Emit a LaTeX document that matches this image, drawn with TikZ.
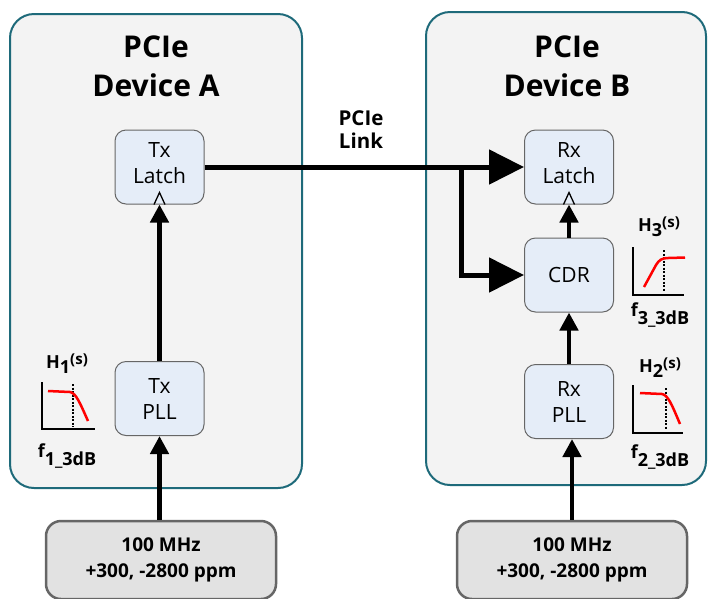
\documentclass[tikz,border=0pt]{standalone}
\usepackage{fontspec}
\setmainfont{Open Sans}
\usetikzlibrary{arrows.meta}
\definecolor{devfill}{HTML}{F3F3F3}
\definecolor{devline}{HTML}{1E6A7A}
\definecolor{blkfill}{HTML}{E5EDF8}
\definecolor{blkline}{HTML}{666666}
\definecolor{clkfill}{HTML}{E2E2E2}
\definecolor{curvered}{HTML}{FF0000}
\newcommand\Hlab[1]{H\raisebox{-5pt}{#1}\raisebox{4pt}{\fontsize{15}{15}\selectfont(s)}}
\newcommand\flab[1]{f\raisebox{-8pt}{#1\_3dB}}
\begin{document}
\begin{tikzpicture}[x=1pt,y=-1pt,
  devbox/.style={draw=devline, line width=2pt, fill=devfill, rounded corners=24pt, inner sep=0pt},
  blk/.style={draw=blkline, line width=1pt, fill=blkfill, rounded corners=11pt, minimum width=89pt, minimum height=74pt, inner sep=0pt},
  blktext/.style={align=center, font=\fontsize{21}{26}\selectfont, inner sep=0pt},
  clk/.style={draw=blkline, line width=2.5pt, fill=clkfill, rounded corners=15pt, minimum width=230pt, minimum height=78pt, inner sep=0pt, align=center, font=\bfseries\fontsize{19}{26}\selectfont},
  title/.style={font=\bfseries\fontsize{30}{39}\selectfont, align=center, inner sep=0pt},
  linklab/.style={font=\bfseries\fontsize{20.5}{23}\selectfont, align=center, inner sep=0pt},
  hlab/.style={font=\bfseries\fontsize{18}{18}\selectfont, inner sep=0pt},
  arr/.style={line width=4.5pt, -{Triangle[length=18pt,width=18pt]}},
  bigarr/.style={line width=5pt, -{Triangle[length=35pt,width=34pt]}},
  axis/.style={line width=2.5pt},
  resp/.style={curvered, line width=2.5pt},
  cut/.style={line width=1.2pt, dash pattern=on 2pt off 1.5pt}
]
\useasboundingbox (0,0) rectangle (708,598);

% device boxes
\node[devbox, minimum width=292pt, minimum height=474pt] (devA) at (156,251) {};
\node[devbox, minimum width=280pt, minimum height=473pt] (devB) at (566,248.5) {};

\node[title] (tA) at (156,66) {PCIe\\Device A};
\node[title] (tB) at (567,66) {PCIe\\Device B};
\node[linklab] (link) at (361,130) {PCIe\\Link};

% blocks
\node[blk] (txl) at (159.5,167) {};
\node[blktext] (txlt) at (159.5,163) {Tx\\Latch};
\node[blk] (txp) at (159.5,398.5) {};
\node[blktext] (txpt) at (159.5,399) {Tx\\PLL};
\node[blk] (rxl) at (569,167) {};
\node[blktext] (rxlt) at (569,163) {Rx\\Latch};
\node[blk] (cdr) at (569,275) {};
\node[blktext] (cdrt) at (569,275) {CDR};
\node[blk] (rxp) at (569,401.5) {};
\node[blktext] (rxpt) at (569,402) {Rx\\PLL};

% clock symbols
\draw[line width=1.3pt] ([xshift=-5.5pt]txl.south) -- ++(5.5,-12) -- ++(5.5,12);
\draw[line width=1.3pt] ([xshift=-5.5pt]rxl.south) -- ++(5.5,-12) -- ++(5.5,12);

% reference clocks
\node[clk] (clkA) at (161,560) {100 MHz\\+300, -2800 ppm};
\node[clk] (clkB) at (572,560) {100 MHz\\+300, -2800 ppm};

% connectors
\coordinate (br) at (461,167);
\draw[bigarr] (txl.east) -- (rxl.west);
\draw[bigarr] ([yshift=-2.5pt]br) |- (cdr.west);
\draw[arr] (txp.north) -- (txl.south);
\draw[arr] (txp.south |- clkA.north) -- (txp.south);
\draw[arr] (rxp.north) -- (cdr.south);
\draw[arr] (cdr.north) -- (rxl.south);
\draw[arr] (clkB.north) -- (clkB.north |- rxp.south);

% transfer function H1
\node[hlab] (h1) at (67,364) {\Hlab{1}};
\node[hlab] (f1) at (67,456) {\flab{1}};
\draw[axis] (42,382) -- (42,429) -- (95,429);
\draw[cut] (73,384) -- (73,427);
\draw[resp] (48,391) -- (70,392) .. controls (76,393) and (80,403) .. (88,421);

% transfer function H3
\node[hlab] (h3) at (659,227) {\Hlab{3}};
\node[hlab] (f3) at (660,315) {\flab{3}};
\draw[axis] (633,247) -- (633,295) -- (684,295);
\draw[cut] (664,250) -- (664,292);
\draw[resp] (644,287) -- (656,265) .. controls (659,260) and (662,258) .. (668,258) -- (685,257.5);

% transfer function H2
\node[hlab] (h2) at (660,368) {\Hlab{2}};
\node[hlab] (f2) at (660,457) {\flab{2}};
\draw[axis] (633,385) -- (633,433) -- (683,433);
\draw[cut] (666,388) -- (666,430);
\draw[resp] (640,393) -- (662,394) .. controls (668,395) and (672,405) .. (680,424);
\end{tikzpicture}
\end{document}
